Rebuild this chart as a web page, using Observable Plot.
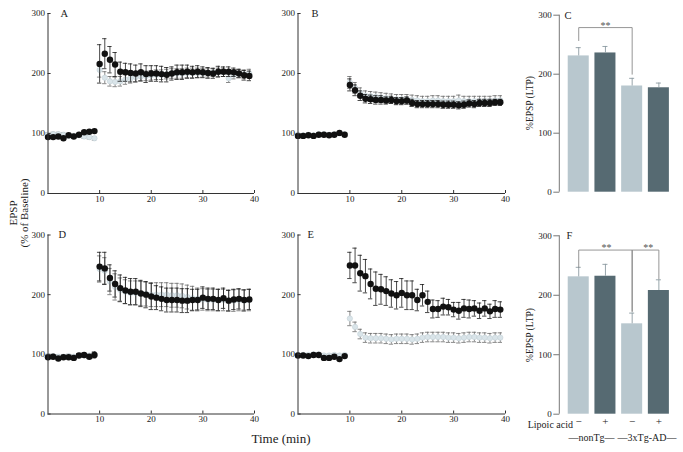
<!DOCTYPE html>
<html><head><meta charset="utf-8">
<script src="https://cdn.jsdelivr.net/npm/d3@7"></script>
<script src="https://cdn.jsdelivr.net/npm/@observablehq/plot@0.6"></script>
<style>
body{margin:0;background:#fff}
#fig{position:relative;width:683px;height:452px;background:#fff;font-family:"Liberation Serif","DejaVu Serif",serif;color:#222;overflow:hidden}
.lbl{position:absolute;white-space:nowrap;line-height:1}
.rot{transform:translate(-50%,-50%) rotate(-90deg);text-align:center}
</style>
</head><body><div id="fig"></div>
<script>
// ---------- data ----------
const time = [0,1,2,3,4,5,6,7,8,9,10,11,12,13,14,15,16,17,18,19,20,21,22,23,24,25,26,27,28,29,30,31,32,33,34,35,36,37,38,39];
const yTicks = [0,100,200,300];
const xTicks = [10,20,30,40];

const A_black    = [94,94,95,92,97,95,98,102,103,104, 216,233,223,215,203,202,201,200,202,199, 200,200,199,198,200,202,202,203,202,203, 202,201,200,203,203,203,202,200,197,196];
const A_blackErr = [2,2,2,2,2,2,2,2,2,2, 32,25,22,20,16,15,15,14,14,14, 13,13,13,12,11,12,12,11,10,10, 9,9,8,9,8,8,7,7,8,8];
const A_light    = [98,99,99,98,96,96,97,95,94,92, 206,193,187,186,187,190,192,194,195,196, 197,198,198,199,200,200,200,201,201,201, 201,201,202,202,202,192,198,200,199,200];
const A_lightErr = [3,3,3,3,3,3,3,3,3,3, 12,10,8,8,8,8,8,8,8,8, 8,8,8,8,8,8,8,8,8,8, 7,7,7,7,7,7,7,7,7,7];

const B_black    = [96,96,97,96,98,98,97,98,101,98, 181,172,163,158,157,156,156,155,156,154, 154,155,151,149,149,149,149,149,148,148, 148,147,148,150,149,151,151,151,152,152];
const B_blackErr = [2,2,2,2,2,2,2,2,2,2, 10,9,8,7,7,7,7,6,6,6, 6,6,6,6,6,6,6,6,6,6, 6,6,6,6,6,6,6,6,5,5];
const B_light    = [98,97,98,97,99,99,98,99,100,99, 185,176,168,163,162,161,160,159,158,157, 157,157,156,155,154,154,155,155,154,154, 154,155,154,154,154,154,154,154,155,155];
const B_lightErr = [2,2,2,2,2,2,2,2,2,2, 10,9,8,8,8,8,8,8,8,8, 8,8,8,8,8,8,8,8,8,8, 8,9,8,8,8,8,8,8,8,8];

const D_black    = [95,96,93,95,95,94,98,99,96,99, 247,244,228,218,211,207,205,205,202,200, 197,195,193,191,191,191,190,190,191,191, 195,193,193,191,194,190,192,193,191,192];
const D_blackErr = [2,2,2,2,2,2,3,3,3,5, 24,27,22,22,22,22,22,22,22,22, 22,20,20,20,20,20,20,20,18,18, 18,18,18,18,17,17,17,17,17,17];
const D_light    = [97,97,96,96,97,96,98,98,98,100, 243,240,222,213,208,205,203,203,202,201, 200,200,200,200,199,199,198,196,194,193, 192,191,191,191,191,190,190,191,190,191];
const D_lightErr = [3,3,3,3,3,3,3,3,3,3, 22,22,22,22,20,20,20,20,20,20, 20,20,20,20,20,20,20,20,20,18, 18,18,18,18,18,18,18,18,18,18];

const E_black    = [98,98,97,99,99,94,94,96,92,97, 249,249,236,231,218,210,209,206,202,199, 203,199,199,191,199,188,176,176,180,179, 175,173,177,176,177,173,177,172,176,175];
const E_blackErr = [2,2,2,2,2,2,2,2,2,2, 22,29,30,28,25,28,25,24,23,23, 24,24,24,18,18,18,15,14,14,13, 12,14,15,15,13,13,13,12,14,13];
const E_light    = [99,99,99,100,100,98,98,99,98,99, 160,146,134,128,127,127,127,126,125,126, 126,126,125,126,128,129,129,129,129,128, 128,127,128,129,129,128,128,127,128,128];
const E_lightErr = [2,2,2,2,2,2,2,2,2,2, 12,8,8,8,8,8,8,8,8,8, 8,8,8,8,8,8,8,8,8,8, 8,8,8,8,8,8,8,8,8,8];

const groups = ["nonTg −","nonTg +","3xTg-AD −","3xTg-AD +"];
const lipoic = ["−","+","−","+"];
const C_values = [231,236,180,177];
const C_err    = [14,11,13,8];
const F_values = [231,232,152,208];
const F_err    = [16,20,18,18];
const C_brackets = [{from:"nonTg −", to:"3xTg-AD −", top:279, fromEnd:257, toEnd:200, mid:"nonTg +", shift:0}];
const F_brackets = [
  {from:"nonTg −", to:"3xTg-AD −", top:276, fromEnd:247, toEnd:173, mid:"nonTg +", shift:1},
  {from:"3xTg-AD −", to:"3xTg-AD +", top:276, fromEnd:173, toEnd:228, mid:"3xTg-AD −", shift:16}
];

// ---------- drawing ----------
const FONT = '"Liberation Serif","DejaVu Serif",serif';
const fig = document.getElementById("fig");
function place(node, left, top){node.style.position="absolute";node.style.left=left+"px";node.style.top=top+"px";fig.appendChild(node);}
function label(text, cx, cy, size, rot, align){
  const d=document.createElement("div");d.className="lbl"+(rot?" rot":"");d.innerHTML=text;
  d.style.fontSize=size+"px";
  d.style.left=cx+"px";d.style.top=cy+"px";
  if(!rot){ d.style.transform = align==="right" ? "translate(-100%,-50%)" : "translate(-50%,-50%)"; }
  fig.appendChild(d);
}

function linePanel(c){
  const L = c.light.map((v,i)=>({t:time[i], v, e:c.lightErr[i]}));
  const K = c.black.map((v,i)=>({t:time[i], v, e:c.blackErr[i]}));
  const cap = 0.42;
  const err = (rows, color) => [
    Plot.ruleX(rows,{x:"t", y1:d=>d.v-d.e, y2:d=>d.v+d.e, stroke:color, strokeWidth:0.8}),
    Plot.ruleY(rows,{y:d=>d.v+d.e, x1:d=>d.t-cap, x2:d=>d.t+cap, stroke:color, strokeWidth:0.8}),
    Plot.ruleY(rows,{y:d=>d.v-d.e, x1:d=>d.t-cap, x2:d=>d.t+cap, stroke:color, strokeWidth:0.8})
  ];
  const chart = Plot.plot({
    width:c.w, height:c.h, marginLeft:c.ml, marginRight:c.mr, marginTop:c.mt, marginBottom:c.mb,
    x:{domain:[0,40]}, y:{domain:[0,300]},
    style:{background:"none", fontFamily:FONT, fontSize:"9px", color:"#222", overflow:"visible"},
    marks:[
      ...err(L, "#6a6a6a"),
      Plot.dot(L,{x:"t", y:"v", r:2.7, fill:"#d9e4e9", stroke:"#bfcdd3", strokeWidth:0.5}),
      ...err(K, "#1a1a1a"),
      Plot.dot(K,{x:"t", y:"v", r:3.2, fill:"#111", stroke:"none"}),
      Plot.ruleX([0],{y1:0, y2:300, stroke:"#333"}),
      Plot.ruleY([0],{x1:0, x2:40, stroke:"#333"}),
      Plot.ruleY(yTicks,{x1:0, x2:0.6, stroke:"#333"}),
      Plot.ruleX(xTicks,{y1:0, y2:5, stroke:"#333"}),
      Plot.axisY({ticks:yTicks, tickSize:0, tickPadding:3, label:null, fontSize:9}),
      Plot.axisX({ticks:xTicks, tickSize:0, tickPadding:2, label:null, fontSize:9}),
      Plot.text([c.letter],{text:d=>d, frameAnchor:"top-left", dx:c.ldx, textAnchor:"start", lineAnchor:"middle", fontSize:10.5})
    ]
  });
  place(chart, c.left, c.top);
}

function barPanel(c){
  const rows = groups.map((g,i)=>({g, lip:lipoic[i], v:c.values[i], e:c.err[i]}));
  const pts = [];
  c.brackets.forEach((b,k)=>{
    pts.push({id:k,g:b.from,y:b.fromEnd},{id:k,g:b.from,y:b.top},{id:k,g:b.to,y:b.top},{id:k,g:b.to,y:b.toEnd});
  });
  const stars = c.brackets.map(b=>Plot.text([b],{x:"mid", y:"top", text:()=>"**", dx:b.shift, dy:1, lineAnchor:"bottom", fontSize:10, fill:"#555"}));
  const chart = Plot.plot({
    width:c.w, height:c.h, marginLeft:c.ml, marginRight:c.mr, marginTop:c.mt, marginBottom:c.mb,
    x:{domain:groups, paddingInner:0.213, paddingOuter:0.315, round:false},
    y:{domain:[0,300]},
    color:{domain:["−","+"], range:["#b8c7ce","#566a72"]},
    style:{background:"none", fontFamily:FONT, fontSize:"9px", color:"#222", overflow:"visible"},
    marks:[
      Plot.barY(rows,{x:"g", y:"v", fill:"lip"}),
      Plot.ruleX(rows,{x:"g", y1:"v", y2:d=>d.v+d.e, stroke:"#8c9ba2", strokeWidth:0.9}),
      Plot.tickY(rows,{x:"g", y:d=>d.v+d.e, stroke:"#8c9ba2", strokeWidth:0.9, insetLeft:8, insetRight:8}),
      Plot.line(pts,{x:"g", y:"y", z:"id", stroke:"#8a8a8a", strokeWidth:0.9}),
      ...stars,
      Plot.axisY({ticks:yTicks, tickSize:6, tickPadding:2, label:null, fontSize:9, stroke:"#777"}),
      Plot.axisX({ticks:[], label:null}),
      ...(c.signs ? [Plot.text(rows,{x:"g", text:"lip", frameAnchor:"bottom", dy:11, fontSize:11})] : []),
      Plot.text([c.letter],{text:d=>d, frameAnchor:"top-left", dx:c.ldx, textAnchor:"start", lineAnchor:"middle", fontSize:10.5})
    ]
  });
  const ys = chart.scale("y");
  d3.select(chart).append("line")
    .attr("x1", c.ml).attr("x2", c.ml).attr("y1", ys.apply(0)).attr("y2", ys.apply(300))
    .attr("stroke", "#777");
  place(chart, c.left, c.top);
}

linePanel({letter:"A", ldx:12.5, left:0,   top:0,   w:266, h:207, ml:47.5, mr:12, mt:13,   mb:14,   black:A_black, blackErr:A_blackErr, light:A_light, lightErr:A_lightErr});
linePanel({letter:"B", ldx:13.5, left:262, top:0,   w:255, h:207, ml:35.5, mr:12, mt:13,   mb:14,   black:B_black, blackErr:B_blackErr, light:B_light, lightErr:B_lightErr});
linePanel({letter:"D", ldx:10.5, left:0,   top:221, w:266, h:207, ml:47.5, mr:12, mt:13.5, mb:14.5, black:D_black, blackErr:D_blackErr, light:D_light, lightErr:D_lightErr});
linePanel({letter:"E", ldx:9.5,  left:262, top:221, w:255, h:207, ml:35.5, mr:12, mt:13.5, mb:14.5, black:E_black, blackErr:E_blackErr, light:E_light, lightErr:E_lightErr});
barPanel({letter:"C", ldx:4.7, left:515, top:0,   w:168, h:202, ml:44.3, mr:5.7, mt:14.7, mb:10.3, values:C_values, err:C_err, brackets:C_brackets, signs:false});
barPanel({letter:"F", ldx:6.7, left:515, top:221, w:168, h:212, ml:44.3, mr:5.7, mt:14.3, mb:19.3, values:F_values, err:F_err, brackets:F_brackets, signs:true});

// ---------- text labels ----------
label("EPSP<br>(% of Baseline)", 19, 213, 11, true);
label("Time (min)", 281, 438, 13, false);
label("%EPSP (LTP)", 531, 103, 9.5, true);
label("%EPSP (LTP)", 531, 335, 9.5, true);
label("Lipoic acid", 573, 424.5, 10, false, "right");
label("—nonTg—", 591.5, 437.5, 10, false);
label("—3xTg-AD—", 647, 437.5, 10, false);
</script>
</body></html>
